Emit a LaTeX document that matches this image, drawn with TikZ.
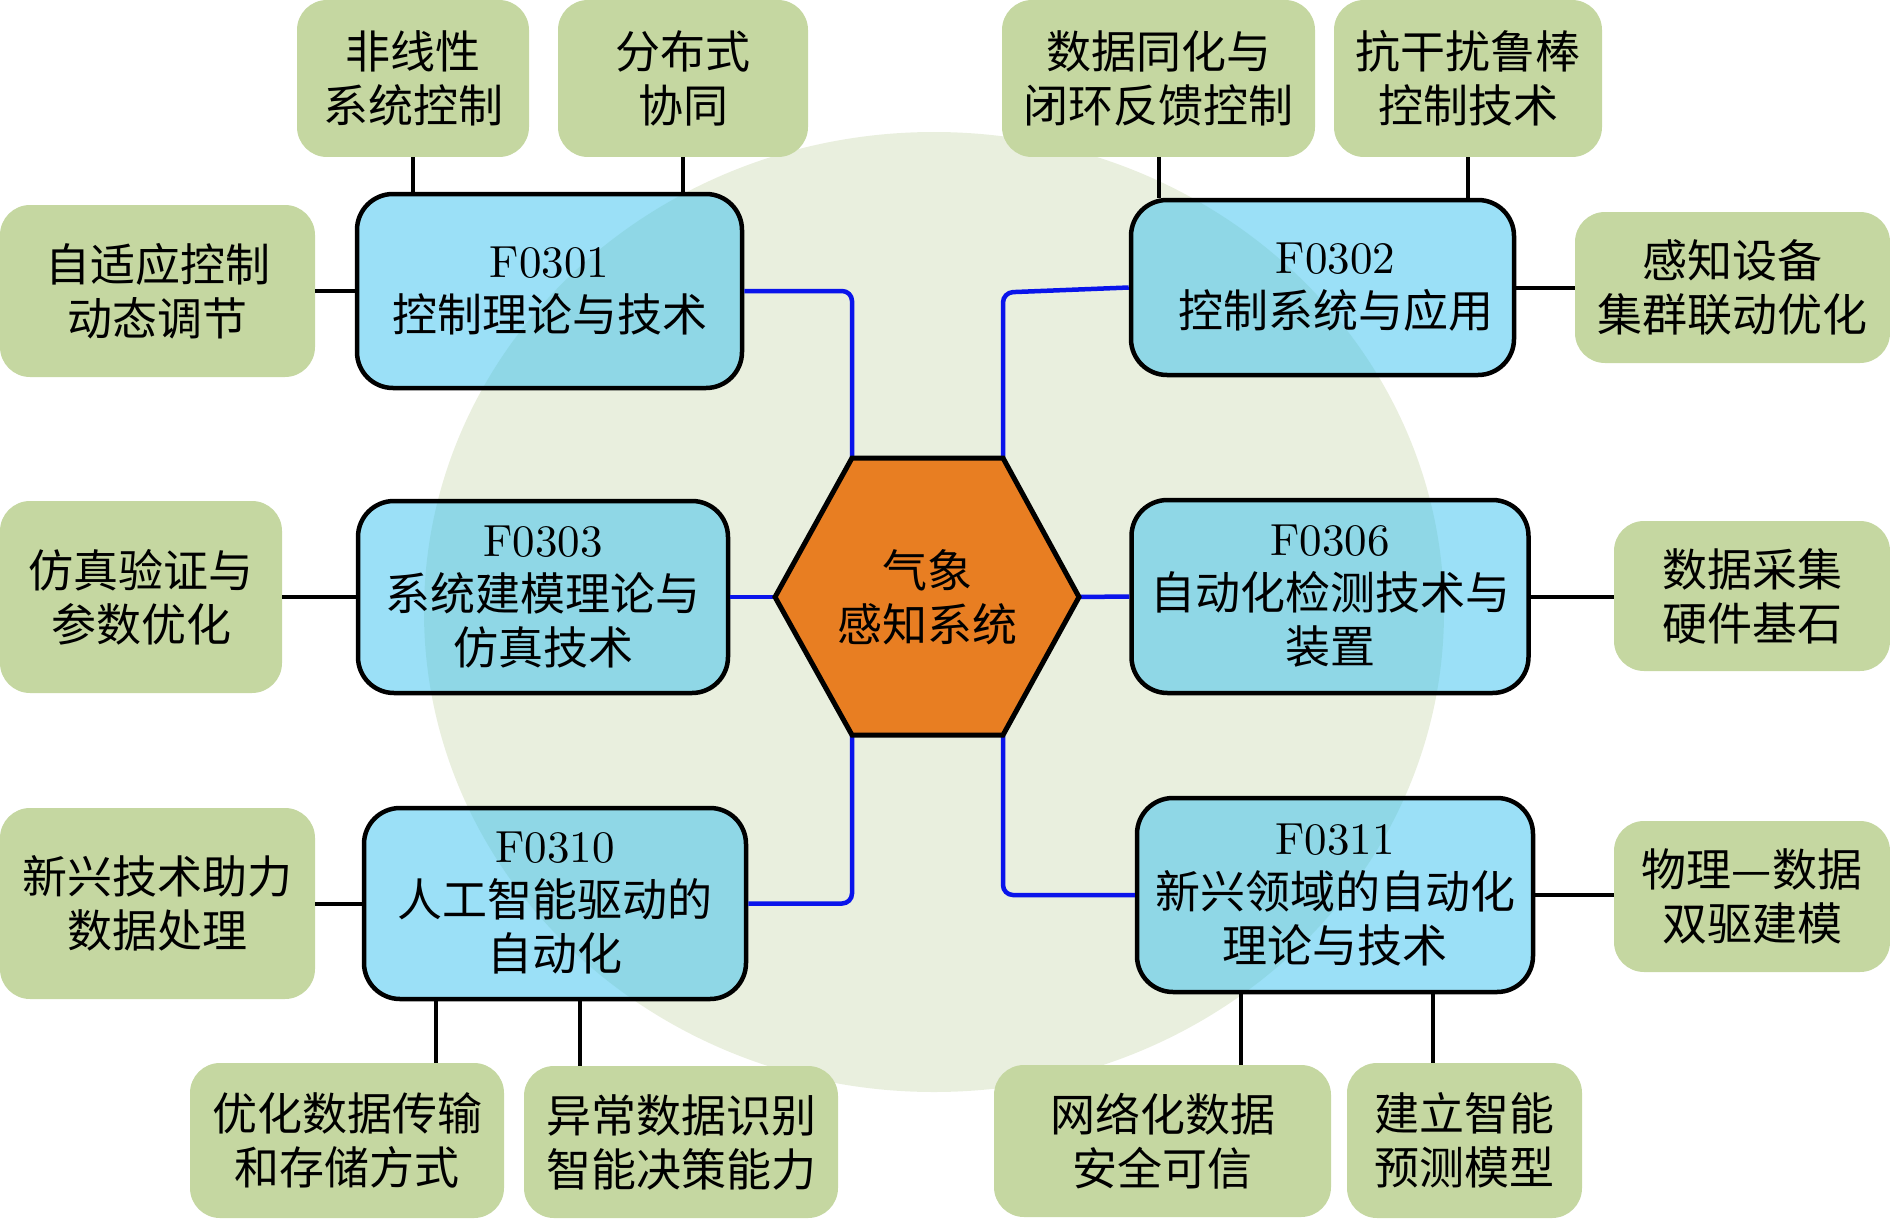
\documentclass[tikz,border=0pt]{standalone}
\usepackage{fontspec}
\newfontfamily\cjk{Noto Sans CJK SC}
\newfontfamily\lmten{lmroman10-regular.otf}
\definecolor{bgcirc}{RGB}{233,239,222}
\definecolor{gfill}{RGB}{197,215,161}
\definecolor{bfill}{RGB}{55,193,239}
\definecolor{hexfill}{RGB}{232,126,34}
\definecolor{bline}{RGB}{10,20,235}
\tikzset{
  gbox/.style={rectangle, rounded corners=30, fill=gfill, inner sep=0, align=center,
    font={\fontsize{45}{54}\selectfont\cjk}},
  bbox/.style={rectangle, rounded corners=36, fill=bfill, fill opacity=0.5, text opacity=1,
    draw=black, line width=4.5, inner sep=0, align=center,
    font={\fontsize{45}{54}\selectfont\lmten}},
  kconn/.style={draw=black, line width=4},
  bconn/.style={draw=bline, line width=4.5, rounded corners=10},
}
\begin{document}
\begin{tikzpicture}[x=1pt,y=-1pt]
\useasboundingbox (0,0) rectangle (1890,1220);
% background ellipse
\fill[bgcirc] (934,612) ellipse [x radius=510, y radius=480];

% blue boxes
\node[bbox, minimum width=385, minimum height=194] (b301) at (549.5,291) {F0301\\\cjk 控制理论与技术};
\node[bbox, minimum width=383, minimum height=175] (b302) at (1322.5,287.5) {\hspace*{26pt}F0302\\\hspace*{26pt}\cjk 控制系统与应用};
\node[bbox, minimum width=370, minimum height=192] (b303) at (543,597) {F0303\\\cjk 系统建模理论与\\\cjk 仿真技术};
\node[bbox, minimum width=397, minimum height=193] (b306) at (1330,596.5) {F0306\\\cjk 自动化检测技术与\\\cjk 装置};
\node[bbox, minimum width=382, minimum height=191] (b310) at (555,903.5) {F0310\\\cjk 人工智能驱动的\\\cjk 自动化};
\node[bbox, minimum width=396, minimum height=194] (b311) at (1335,895) {F0311\\\cjk 新兴领域的自动化\\\cjk 理论与技术};

% green boxes
\node[gbox, minimum width=232, minimum height=157] (g1) at (413,78.5) {非线性\\系统控制};
\node[gbox, minimum width=250, minimum height=157] (g2) at (683,78.5) {分布式\\协同};
\node[gbox, minimum width=313, minimum height=157] (g3) at (1158.5,78.5) {数据同化与\\闭环反馈控制};
\node[gbox, minimum width=268, minimum height=157] (g4) at (1468,78.5) {抗干扰鲁棒\\控制技术};
\node[gbox, minimum width=315, minimum height=172] (g5) at (157.5,291) {自适应控制\\动态调节};
\node[gbox, minimum width=282, minimum height=192] (g6) at (141,597) {仿真验证与\\参数优化};
\node[gbox, minimum width=315, minimum height=191] (g7) at (157.5,903.5) {新兴技术助力\\数据处理};
\node[gbox, minimum width=315, minimum height=151] (g8) at (1732.5,287.5) {感知设备\\集群联动优化};
\node[gbox, minimum width=276, minimum height=150] (g9) at (1752,596) {数据采集\\硬件基石};
\node[gbox, minimum width=276, minimum height=151] (g10) at (1752,896.5) {物理—数据\\双驱建模};
\node[gbox, minimum width=314, minimum height=155] (g11) at (347,1140.5) {优化数据传输\\和存储方式};
\node[gbox, minimum width=314, minimum height=152] (g12) at (681,1142) {异常数据识别\\智能决策能力};
\node[gbox, minimum width=337, minimum height=152] (g13) at (1162.5,1141) {网络化数据\\安全可信};
\node[gbox, minimum width=235, minimum height=155] (g14) at (1464.5,1140.5) {建立智能\\预测模型};

% black connectors
\draw[kconn] (g1.south) -- (g1.south |- b301.north);
\draw[kconn] (g2.south) -- (g2.south |- b301.north);
\draw[kconn] (g5.east) -- (g5.east -| b301.west);
\draw[kconn] (g3.south) -- (g3.south |- b302.north);
\draw[kconn] (g4.south) -- (g4.south |- b302.north);
\draw[kconn] (b302.east) -- (b302.east -| g8.west);
\draw[kconn] (g6.east) -- (g6.east -| b303.west);
\draw[kconn] (b306.east) -- (b306.east -| g9.west);
\draw[kconn] (g7.east) -- (g7.east -| b310.west);
\draw[kconn] (b310.south -| 436,0) -- (g11.north -| 436,0);
\draw[kconn] (b310.south -| 580,0) -- (g12.north -| 580,0);
\draw[kconn] (b311.east) -- (b311.east -| g10.west);
\draw[kconn] (b311.south -| 1241,0) -- (g13.north -| 1241,0);
\draw[kconn] (b311.south -| 1433,0) -- (g14.north -| 1433,0);

% hexagon corners
\coordinate (hl) at (775,597);
\coordinate (htl) at (852,458);
\coordinate (htr) at (1003,458);
\coordinate (hr) at (1079,597);
\coordinate (hbr) at (1003,735);
\coordinate (hbl) at (852,735);

% blue connectors
\draw[bconn] (b301.east) -| (htl);
\draw[bconn] (b302.west) -- ([yshift=-5pt]b302.west -| htr) -- (htr);
\draw[bconn] (b303.east) -- (hl);
\draw[bconn] (b306.west) -- (hr);
\draw[bconn] (b310.east) -| (hbl);
\draw[bconn] (b311.west) -| (hbr);

\draw[fill=hexfill, line width=5, line join=miter] (hl) -- (htl) -- (htr) -- (hr) -- (hbr) -- (hbl) -- cycle;
\node[align=center, font={\fontsize{45}{54}\selectfont\cjk}] (hex) at (927,597) {气象\\感知系统};
\end{tikzpicture}
\end{document}
